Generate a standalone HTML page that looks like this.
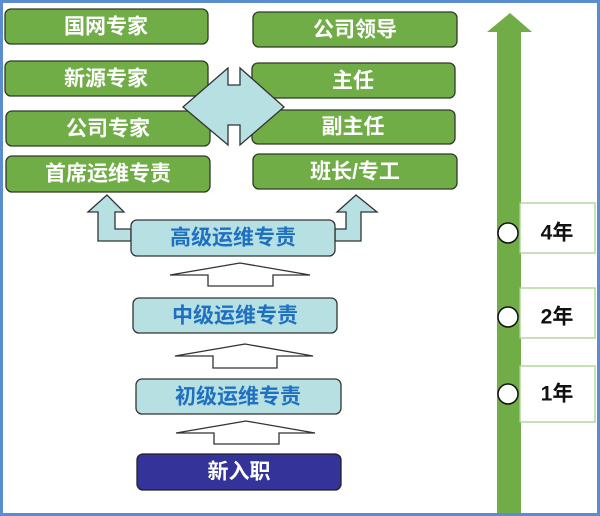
<!DOCTYPE html>
<html><head><meta charset="utf-8"><style>
html,body{margin:0;padding:0;background:#fff}
svg{display:block}
text{font-family:"Liberation Sans","Noto Sans CJK SC",sans-serif;font-weight:bold;text-anchor:middle;dominant-baseline:central}
</style></head><body>
<svg width="600" height="516" viewBox="0 0 600 516" xmlns="http://www.w3.org/2000/svg">
<rect x="1.5" y="1.5" width="597" height="513" fill="#fff" stroke="#5b8ccf" stroke-width="3"/>
<g fill="#70ad47" stroke="#2e3b26" stroke-width="1.3">
<rect x="5" y="9" width="203" height="35" rx="6"/>
<rect x="253" y="12" width="204" height="35" rx="6"/>
<rect x="5" y="61" width="203" height="35" rx="6"/>
<rect x="252" y="63" width="203" height="35" rx="6"/>
<rect x="6" y="111" width="204" height="35" rx="6"/>
<rect x="252" y="110" width="203" height="34" rx="6"/>
<rect x="6" y="156" width="204" height="36" rx="6"/>
<rect x="253" y="154" width="204" height="35" rx="6"/>
</g>
<g fill="#fff" font-size="21">
<text x="106" y="27">国网专家</text>
<text x="355" y="30">公司领导</text>
<text x="106" y="79">新源专家</text>
<text x="353" y="81">主任</text>
<text x="108" y="129">公司专家</text>
<text x="353" y="127">副主任</text>
<text x="108" y="174">首席运维专责</text>
<text x="355" y="172">班长/专工</text>
</g>
<polygon points="228,68 183,107 228,145 228,125 240,125 240,145 284,107 240,68 240,85 228,85" fill="#b7e0e3" stroke="#333" stroke-width="1.3"/>
<polygon points="107,195 88,212 98,212 98,241 131,241 131,229 115,229 115,212 124,212" fill="#b7e0e3" stroke="#333" stroke-width="1.3"/>
<polygon points="356,195 337,212 346,212 346,229 335,229 335,241 361,241 361,212 377,212" fill="#b7e0e3" stroke="#333" stroke-width="1.3"/>
<g fill="#b7e0e3" stroke="#333" stroke-width="1.3">
<rect x="131" y="220" width="204" height="36" rx="6"/>
<rect x="133" y="298" width="204" height="35" rx="6"/>
<rect x="136" y="379" width="205" height="35" rx="6"/>
</g>
<rect x="137" y="454" width="204" height="36" rx="6" fill="#333399" stroke="#222" stroke-width="1.3"/>
<g fill="#1f70c0" font-size="21">
<text x="233" y="238">高级运维专责</text>
<text x="235" y="316">中级运维专责</text>
<text x="238" y="397">初级运维专责</text>
</g>
<text x="239" y="472" fill="#fff" font-size="21">新入职</text>
<g fill="#fff" stroke="#333" stroke-width="1.3">
<polygon points="240,263 170,275 208,275 208,286 273,286 273,275 310,275"/>
<polygon points="245,344 175,356 213,356 213,368 277,368 277,356 313,356"/>
<polygon points="246,421 176,433 214,433 214,444 279,444 279,433 315,433"/>
</g>
<polygon points="510,13 487,32 497,32 497,513 521,513 521,32 532,32" fill="#70ad47"/>
<g fill="#fff" stroke="#a9d18e" stroke-width="1.3">
<rect x="520" y="203" width="75" height="50"/>
<rect x="520" y="288" width="75" height="50"/>
<rect x="520" y="366" width="75" height="56"/>
</g>
<g fill="#fff" stroke="#111" stroke-width="1.5">
<ellipse cx="508" cy="233" rx="10" ry="10"/>
<ellipse cx="508" cy="317" rx="10" ry="10"/>
<ellipse cx="508" cy="394" rx="10" ry="10"/>
</g>
<g fill="#111" font-size="21">
<text x="557" y="233">4年</text>
<text x="557" y="317">2年</text>
<text x="557" y="394">1年</text>
</g>
</svg>
</body></html>
